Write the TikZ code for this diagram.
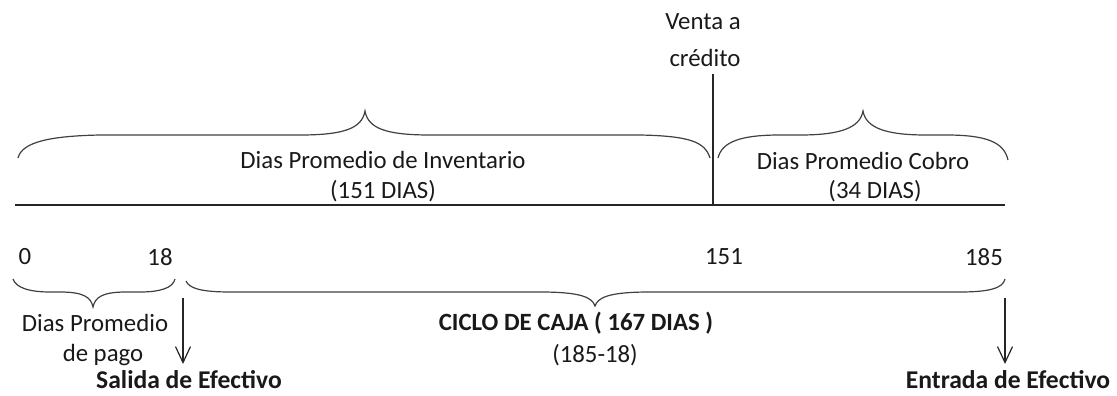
\documentclass[tikz,border=0pt]{standalone}
\usepackage{fontspec}
\setmainfont{Carlito}
\usetikzlibrary{arrows.meta}
\begin{document}
\begin{tikzpicture}[x=1pt,y=-1pt,
  lbl/.style={inner sep=0pt,font=\fontsize{24.8}{29}\selectfont,text=black!90},
  blbl/.style={lbl,font=\fontsize{24.8}{29}\selectfont\bfseries},
  bblbl/.style={lbl,font=\fontsize{25.6}{30}\selectfont\bfseries},
  ln/.style={line width=1.2pt,draw=black!85},
  br/.style={line width=1.2pt,draw=black!75},
  arr/.style={ln,-{Straight Barb[length=16pt,width=15pt,line width=1.2pt]}}]
\useasboundingbox (0,0) rectangle (1117,396);
% timeline
\coordinate (t0) at (15,205);
\coordinate (t1) at (1005,205);
\draw[ln] (t0) -- (t1);
% sale marker
\coordinate (v0) at (713,74);
\coordinate (v1) at (713,205);
\draw[ln] (v0) -- (v1);
\node[lbl] (venta) at (703,22) {Venta a};
\node[lbl] (credito) at (705,58) {crédito};
% top brace 1
\draw[br] (18,158) .. controls (22,142) and (50,136) .. (100,135) -- (300,135)
  .. controls (345,135) and (362,128) .. (365,111)
  .. controls (368,128) and (385,135) .. (430,135) -- (640,135)
  .. controls (690,136) and (705,142) .. (710,158);
% top brace 2
\draw[br] (718,158) .. controls (722,142) and (740,135) .. (780,135) -- (800,135)
  .. controls (840,135) and (860,128) .. (863,111)
  .. controls (866,128) and (886,135) .. (926,135) -- (946,135)
  .. controls (986,135) and (1004,142) .. (1008,160);
\node[lbl] (inv) at (383,160) {Dias Promedio de Inventario};
\node[lbl] (inv2) at (383,191) {(151 DIAS)};
\node[lbl] (cob) at (863,161) {Dias Promedio Cobro};
\node[lbl] (cob2) at (875,191) {(34 DIAS)};
% numbers
\node[lbl] (n0) at (25,257) {0};
\node[lbl] (n18) at (160,257) {18};
\node[lbl] (n151) at (724,257) {151};
\node[lbl] (n185) at (984,257) {185};
% bottom brace 1
\draw[br] (13,279) .. controls (16,288) and (30,292) .. (50,292) -- (60,292)
  .. controls (85,292) and (91,298) .. (93,307)
  .. controls (95,298) and (101,292) .. (126,292) -- (140,292)
  .. controls (160,292) and (173,288) .. (175,279);
% bottom brace 2
\draw[br] (186,281) .. controls (189,288) and (200,292) .. (230,292) -- (540,292)
  .. controls (580,292) and (592,297) .. (595,306)
  .. controls (598,297) and (610,292) .. (650,292) -- (960,292)
  .. controls (990,292) and (1003,288) .. (1005,279);
\node[lbl] (pago) at (95,323) {Dias Promedio};
\node[lbl] (pago2) at (103,355) {de pago};
\node[blbl] (ciclo) at (576,323) {CICLO DE CAJA ( 167 DIAS )};
\node[lbl] (ciclo2) at (595,355) {(185-18)};
% arrows
\coordinate (a0) at (183,298);
\coordinate (a1) at (183,364);
\draw[arr] (a0) -- (a1);
\coordinate (b0) at (1005,298);
\coordinate (b1) at (1005,364);
\draw[arr] (b0) -- (b1);
\node[bblbl] (salida) at (189,380) {Salida de Efectivo};
\node[bblbl] (entrada) at (1008,380) {Entrada de Efectivo};
\end{tikzpicture}
\end{document}
